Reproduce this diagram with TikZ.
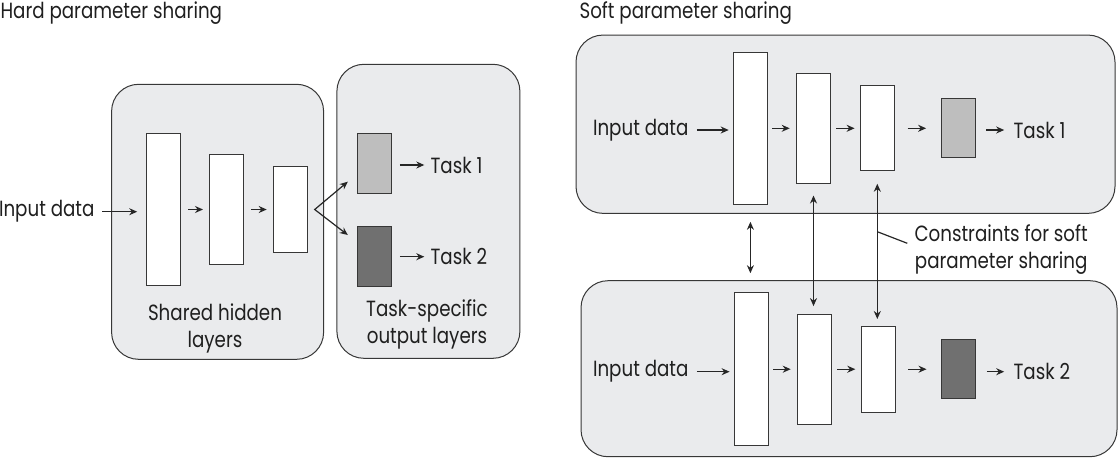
\documentclass[tikz,border=0pt]{standalone}
\usepackage{fontspec}
\setmainfont[FakeStretch=0.83]{Poppins}
\usetikzlibrary{arrows.meta,positioning}
\definecolor{panelgray}{RGB}{234,235,237}
\definecolor{outlight}{RGB}{190,190,190}
\definecolor{outdark}{RGB}{112,112,112}
\definecolor{linegray}{RGB}{55,55,55}

\tikzset{
  panel/.style={draw=linegray, fill=panelgray, rounded corners=27pt, line width=1pt, inner sep=0pt},
  layer/.style={draw=linegray, fill=white, minimum width=34pt, inner sep=0pt, line width=1pt},
  outa/.style={layer, fill=outlight},
  outb/.style={layer, fill=outdark},
  arr/.style={-{Stealth[length=8pt,width=7pt]}, line width=1.2pt, draw=black!85},
  darr/.style={{Stealth[length=8pt,width=7pt]}-{Stealth[length=8pt,width=7pt]}, line width=1.2pt, draw=black!85}
}

\begin{document}
\begin{tikzpicture}[x=1pt, y=-1pt, font=\fontsize{22}{27}\selectfont, text=black!88]
  \useasboundingbox (0,0) rectangle (1118,459);

  % hard parameter sharing
  \node[anchor=west] (hardTitle) at (-3,13) {Hard parameter sharing};
  \node[panel, minimum width=212pt, minimum height=275pt] (sharedPanel) at (217.6,221.8) {};
  \node[panel, minimum width=183pt, minimum height=294pt] (outPanel)    at (428.4,211.3) {};

  \node[layer, minimum height=152.4pt] (hardL1)   at (163.7,209.5)                  {};
  \node[layer, minimum height=110pt]   (hardL2)   [right of=hardL1, node distance=62.8pt] {};
  \node[layer, minimum height=86.6pt]  (hardL3)   [right of=hardL2, node distance=63.7pt] {};
  \node[outa,  minimum height=59.6pt]  (hardOut1) at (374.9,163.5)                  {};
  \node[outb,  minimum height=60pt]    (hardOut2) at (374.9,256.7)                  {};

  \node[anchor=east] (hardInput) at (98,211.7)  {Input data};
  \node[anchor=west] (hardTask1) at (427,165)   {Task 1};
  \node[anchor=west] (hardTask2) at (427,256.7) {Task 2};
  \node[align=center] (sharedLabel) at (215,328) {Shared hidden\\layers};
  \node[align=center] (taskLabel)   at (427,324) {Task-specific\\output layers};

  \draw[arr, shorten <=4pt, shorten >=9pt] (hardInput.east) -- (hardInput.east -| hardL1.west);
  \draw[arr, shorten <=7pt, shorten >=6pt] (hardL1.east) -- (hardL2.west);
  \draw[arr, shorten <=7pt, shorten >=6pt] (hardL2.east) -- (hardL3.west);
  \coordinate (split)  at ([xshift=7pt]hardL3.east);
  \coordinate (toOut1) at (347.8,181.7);
  \coordinate (toOut2) at (347.8,235);
  \draw[darr] (toOut1) -- (split) -- (toOut2);
  \draw[arr, shorten <=7.4pt, shorten >=2.7pt] (hardOut1.east |- hardTask1) -- (hardTask1.west);
  \draw[arr, shorten <=7.4pt, shorten >=2.7pt] (hardOut2.east |- hardTask2) -- (hardTask2.west);

  % soft parameter sharing
  \node[anchor=west] (softTitle) at (576,13) {Soft parameter sharing};
  \node[panel, minimum width=539pt, minimum height=178.3pt] (topPanel) at (845.5,124.2) {};
  \node[panel, minimum width=536pt, minimum height=176pt]   (botPanel) at (849,368.7)   {};

  \node[layer, minimum height=152pt]  (topL1)  at (750.4,128.3)                 {};
  \node[layer, minimum height=110pt]  (topL2)  [right of=topL1, node distance=63.1pt] {};
  \node[layer, minimum height=85.3pt] (topL3)  [right of=topL2, node distance=63.8pt] {};
  \node[outa,  minimum height=58.7pt] (topOut) [right of=topL3, node distance=81pt]   {};
  \node[anchor=east] (topInput) at (692,130) {Input data};
  \node[anchor=west] (topTask)  at (1010,130) {Task 1};

  \node[layer, minimum height=153pt]  (botL1)  at (751.3,369.2)                 {};
  \node[layer, minimum height=110pt]  (botL2)  [right of=botL1, node distance=63.2pt] {};
  \node[layer, minimum height=86pt]   (botL3)  [right of=botL2, node distance=63.5pt] {};
  \node[outb,  minimum height=59.4pt] (botOut) [right of=botL3, node distance=80.7pt] {};
  \node[anchor=east] (botInput) at (692,371.7) {Input data};
  \node[anchor=west] (botTask)  at (1010,371.7) {Task 2};

  \foreach \row in {top,bot} {
    \draw[arr, shorten <=4.8pt, shorten >=4.2pt]   (\row Input.east) -- (\row Input.east -| \row L1.west);
    \draw[arr, shorten <=4.2pt, shorten >=6.3pt]   (\row L1.east) -- (\row L2.west);
    \draw[arr, shorten <=5.2pt, shorten >=5.2pt]   (\row L2.east) -- (\row L3.west);
    \draw[arr, shorten <=12.9pt, shorten >=14.7pt] (\row L3.east) -- (\row Out.west);
    \draw[arr, shorten <=10.6pt, shorten >=5.8pt]  (\row Out.east |- \row Task) -- (\row Task.west);
  }

  % constraints between the two nets
  \draw[darr, shorten <=17pt, shorten >=19pt]    (topL1.south) -- (topL1.south |- botL1.north);
  \draw[darr, shorten <=11.7pt, shorten >=7.6pt] (topL2.south) -- (topL2.south |- botL2.north);
  \draw[darr, shorten <=12.3pt, shorten >=6.7pt] (topL3.south) -- (topL3.south |- botL3.north);
  \node[anchor=west, align=center] (cLabel) at (911,250) {Constraints for soft\\parameter sharing};
  \coordinate (cPoint) at (topL3.south |- 0,231.7);
  \coordinate (cTip)   at (907.3,243.3);
  \draw[line width=1.2pt, draw=black!85] (cPoint) -- (cTip);
\end{tikzpicture}
\end{document}
